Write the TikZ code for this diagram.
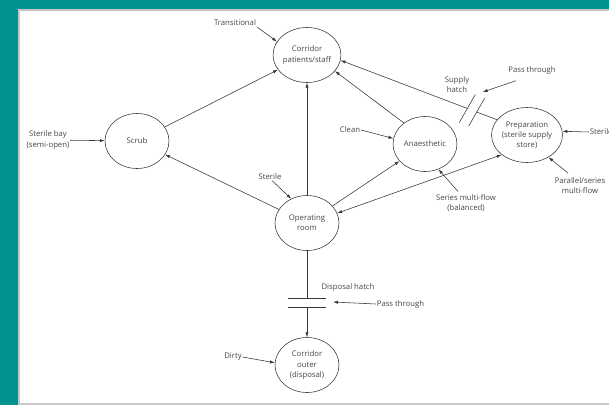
\documentclass[tikz,border=0pt]{standalone}
\usepackage{fontspec}
\setmainfont{Open Sans}
\usetikzlibrary{shapes.geometric,arrows.meta,calc}
\definecolor{marco}{RGB}{0,146,143}
\definecolor{tinta}{RGB}{55,55,55}
\definecolor{texto}{RGB}{70,70,70}

\begin{document}
\begin{tikzpicture}[x=0.05cm,y=-0.05cm,
    sala/.style={ellipse, draw=tinta, line width=0.8pt, minimum width=3.2cm,
        minimum height=2.75cm, inner sep=0pt, align=center, text=texto,
        font=\fontsize{11}{14.5}\selectfont},
    nota/.style={align=center, inner sep=1pt, text=texto,
        font=\fontsize{11}{14.5}\selectfont},
    linea/.style={draw=tinta, line width=0.8pt},
    flecha/.style={linea, -{Latex[length=7pt,width=4.5pt]}},
    dobleflecha/.style={linea, {Latex[length=7pt,width=4.5pt]}-{Latex[length=7pt,width=4.5pt]}}]

    % Marco y fondo
    \useasboundingbox (0,0) rectangle (609,405);
    \clip (0,0) rectangle (609,405);
    \fill[marco] (0,0) rectangle (609,405);
    \filldraw[fill=white, draw=black!22, line width=2.5pt] (19,10) rectangle (615,404);

    % Salas
    \node[sala] (corr) at (307,55) {Corridor\\patients/staff};
    \node[sala] (scrub) at (137,141) {Scrub};
    \node[sala] (anaes) at (425,144) {Anaesthetic};
    \node[sala] (prep) at (527,135) {Preparation\\(sterile supply\\store)};
    \node[sala] (oproom) at (307,223) {Operating\\room};
    \node[sala] (outer) at (307,365) {Corridor\\outer\\(disposal)};

    % Flujos entre salas
    \draw[flecha] (scrub) -- (corr);
    \draw[flecha] (oproom) -- (scrub);
    \draw[flecha] (oproom) -- (corr);
    \draw[flecha] (oproom) -- (anaes);
    \draw[flecha] (anaes.135) -- (corr.330);
    \draw[dobleflecha] (oproom.18) -- (prep.218);

    % Ventanilla de suministro
    \coordinate (h1) at ($(prep.153)!0.13!(corr.351)$);
    \coordinate (h2) at ($(prep.153)!0.19!(corr.351)$);
    \draw[linea] (prep.153) -- (h1);
    \draw[flecha] (h2) -- (corr.351);
    \draw[linea] ($(h1)+(-8,14)$) -- ($(h1)+(8,-14)$);
    \draw[linea] ($(h2)+(-8,14)$) -- ($(h2)+(8,-14)$);
    \coordinate (ptip) at ($(h1)+(6,-20)$);

    % Ventanilla de desechos
    \coordinate (dh1) at (307,298);
    \coordinate (dh2) at (307,307);
    \coordinate (dhtip) at (333,302);
    \draw[linea] (oproom) -- (dh1);
    \draw[flecha] (dh2) -- (outer);
    \draw[linea] ($(dh1)+(-19,0)$) -- ($(dh1)+(19,0)$);
    \draw[linea] ($(dh2)+(-19,0)$) -- ($(dh2)+(19,0)$);

    % Etiquetas
    \node[nota] (transl) at (235,23) {Transitional};
    \node[nota] (bay) at (48,140) {Sterile bay\\(semi-open)};
    \node[nota] (clean) at (350,130) {Clean};
    \node[nota] (sterop) at (270,177) {Sterile};
    \node[nota] (supply) at (457,85) {Supply\\hatch};
    \node[nota] (passup) at (532,70) {Pass through};
    \node[nota, anchor=west] (sterprep) at (589,132) {Sterile};
    \node[nota] (parser) at (580,186) {Parallel/series\\multi-flow};
    \node[nota] (series) at (466,203) {Series multi-flow\\(balanced)};
    \node[nota] (disph) at (348,287) {Disposal hatch};
    \node[nota, anchor=west] (passdown) at (376,304) {Pass through};
    \node[nota] (dirty) at (233,357) {Dirty};

    % Flechas de las etiquetas
    \draw[flecha] (transl.south east) -- (corr.156);
    \draw[flecha] (bay) -- (scrub);
    \draw[flecha] (clean.east) -- (anaes.170);
    \draw[flecha] (sterop.-60) -- (oproom.123);
    \draw[flecha] ([shift={(-16,6)}]passup.south) -- (ptip);
    \draw[flecha] (sterprep.west) -- (prep.6);
    \draw[flecha] ([shift={(-12,-4)}]parser.north) -- (prep.314);
    \draw[flecha] ([shift={(-8,-2)}]series.north) -- (anaes.298);
    \draw[flecha] (passdown.west) -- (dhtip);
    \draw[flecha] (dirty.east) -- (outer.176);
\end{tikzpicture}
\end{document}
